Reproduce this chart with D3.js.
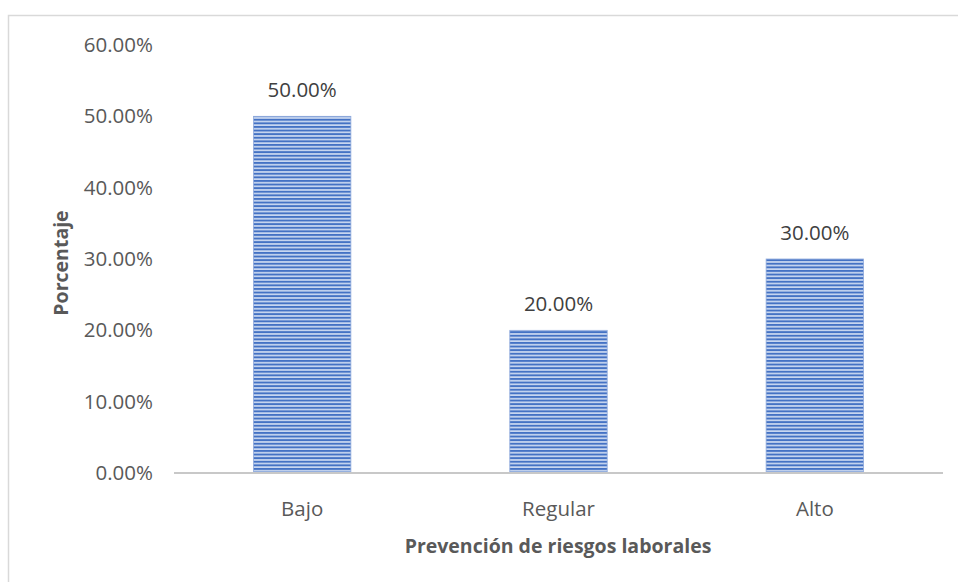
<!DOCTYPE html>
<html><head><meta charset="utf-8">
<script src="https://cdn.jsdelivr.net/npm/d3@7"></script>
<style>body{margin:0;background:#fff}svg{display:block}</style>
</head><body>
<script>
const categories = ["Bajo", "Regular", "Alto"];
const values = [0.50, 0.20, 0.30];
const yTicks = [0, 0.1, 0.2, 0.3, 0.4, 0.5, 0.6];
const xTitle = "Prevención de riesgos laborales";
const yTitle = "Porcentaje";

const W = 958, H = 582;
const svg = d3.select("body").append("svg").attr("width", W).attr("height", H);
const font = "'Open Sans', 'Liberation Sans', sans-serif";
const textColor = "#595959";
const fs = 20.5;
const fsTitle = 19.5;

svg.append("rect").attr("x", 8.5).attr("y", 15.5).attr("width", 1000).attr("height", 1000)
  .attr("fill", "#fff").attr("stroke", "#d9d9d9").attr("stroke-width", 1.5);

const defs = svg.append("defs");
const pat = defs.append("pattern").attr("id", "stripes").attr("patternUnits", "userSpaceOnUse")
  .attr("width", 10).attr("height", 3.6);
pat.append("rect").attr("width", 10).attr("height", 3.6).attr("fill", "#c9d7f0");
pat.append("rect").attr("y", 0).attr("width", 10).attr("height", 1.9).attr("fill", "#4472c4");

const x = d3.scaleBand().domain(categories).range([174, 943]).paddingInner(0.62).paddingOuter(0.31);
const y = d3.scaleLinear().domain([0, 0.6]).range([473, 45]);

// bars
svg.append("g").selectAll("rect").data(categories).join("rect")
  .attr("x", d => x(d)).attr("width", x.bandwidth())
  .attr("y", (d, i) => y(values[i])).attr("height", (d, i) => y(0) - y(values[i]))
  .attr("fill", "url(#stripes)").attr("stroke", "#8faadc").attr("stroke-width", 0.8);

// x axis line
svg.append("line").attr("x1", 174).attr("x2", 943).attr("y1", y(0)).attr("y2", y(0))
  .attr("stroke", "#c8c8c8").attr("stroke-width", 2);

// y tick labels
const yAxis = d3.axisLeft(y).tickValues(yTicks).tickFormat(d => (d * 100).toFixed(2) + "%").tickSize(0).tickPadding(0);
const gy = svg.append("g").attr("transform", "translate(153,0)").call(yAxis);
gy.select(".domain").remove();
gy.selectAll("text").attr("font-family", font).attr("font-size", fs).attr("fill", textColor);

// x tick labels
const xAxis = d3.axisBottom(x).tickSize(0).tickPadding(0);
const gx = svg.append("g").attr("transform", "translate(0,501)").call(xAxis);
gx.select(".domain").remove();
gx.selectAll("text").attr("font-family", font).attr("font-size", fs).attr("fill", textColor);

// data labels
svg.append("g").selectAll("text").data(categories).join("text")
  .attr("x", d => x(d) + x.bandwidth() / 2)
  .attr("y", (d, i) => y(values[i]) - 19)
  .attr("text-anchor", "middle").attr("font-family", font).attr("font-size", fs).attr("fill", "#404040")
  .text((d, i) => (values[i] * 100).toFixed(2) + "%");

// titles
svg.append("text").attr("x", 558).attr("y", 553).attr("text-anchor", "middle")
  .attr("font-family", font).attr("font-size", fsTitle).attr("font-weight", "bold").attr("fill", textColor)
  .text(xTitle);
svg.append("text").attr("transform", "translate(68,263) rotate(-90)").attr("text-anchor", "middle")
  .attr("font-family", font).attr("font-size", fsTitle).attr("font-weight", "bold").attr("fill", textColor)
  .text(yTitle);
</script>
</body></html>
